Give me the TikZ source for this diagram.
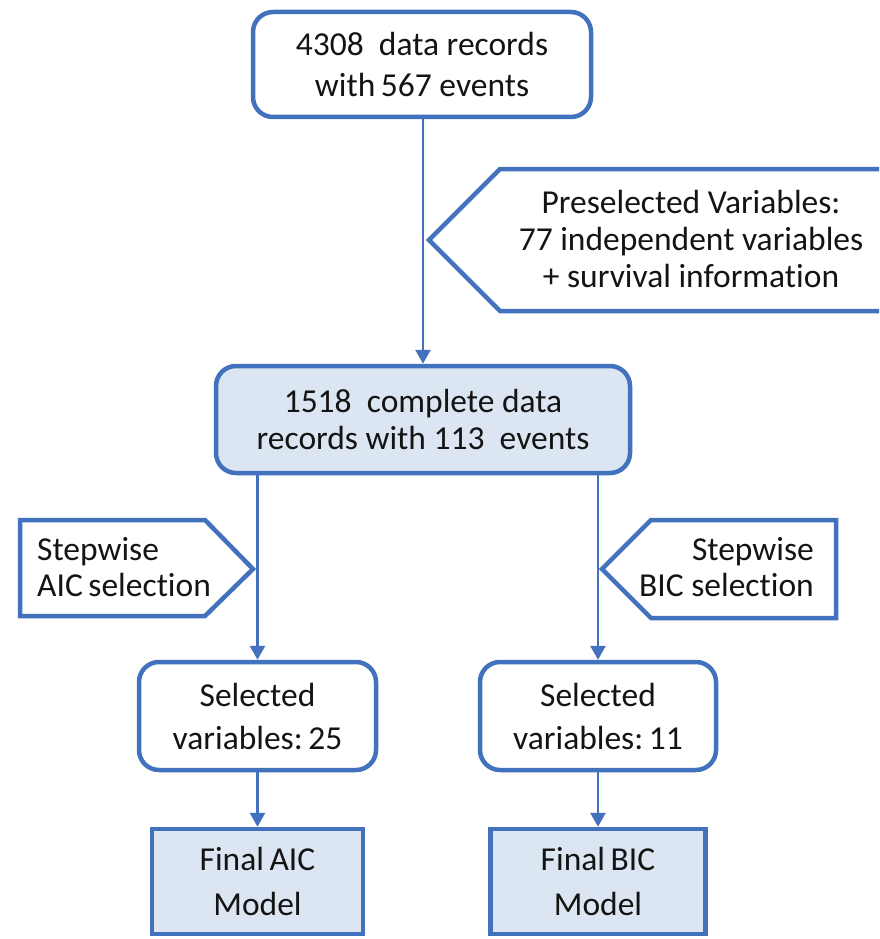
\documentclass[tikz,border=0pt]{standalone}
\usepackage{fontspec}
\setmainfont{Carlito}[Ligatures={NoCommon}]
\usetikzlibrary{arrows.meta}
\definecolor{bline}{RGB}{66,114,190}
\definecolor{bfill}{RGB}{220,230,242}
\definecolor{txt}{RGB}{20,20,20}
\tikzset{
  boxbase/.style={draw=bline, line width=4.5pt, text=txt, align=center, inner sep=0pt},
  roundbox/.style={boxbase, rounded corners=20pt, fill=white},
  roundfill/.style={boxbase, rounded corners=20pt, fill=bfill},
  finalbox/.style={boxbase, fill=bfill},
  calloutshape/.style={draw=bline, line width=4.5pt, fill=white, line join=miter},
  calltext/.style={text=txt, inner sep=0pt},
  conn/.style={draw=bline, line width=2.8pt, -{Triangle[width=15pt,length=14pt]}}
}
\begin{document}
\begin{tikzpicture}[x=1pt,y=-1pt]
\useasboundingbox (0,0) rectangle (879,939);
\clip (0,0) rectangle (879,939);
\fill[white] (0,0) rectangle (879,939);

% top box
\node[roundbox, minimum width=338pt, minimum height=105pt, font=\fontsize{33.5}{41}\selectfont] (top) at (422,64.5) {4308\ \ data records\\with\,567 events};

% middle box
\node[roundfill, minimum width=414pt, minimum height=107pt, font=\fontsize{33.5}{37}\selectfont] (mid) at (423,419.5) {1518\ \ complete data\\records with 113\ \ events};

% connector top -> mid
\coordinate (tb) at (423,117);
\draw[conn] (top.south -| tb) -- (mid.north -| tb);

% preselected callout
\coordinate (pretip) at (429,240);
\draw[calloutshape] (pretip) -- (500,169) -- (895,169) -- (895,311) -- (500,311) -- cycle;
\node[calltext, align=center, font=\fontsize{33.5}{37}\selectfont] (pre) at (691,239) {Preselected Variables:\\77 independent variables\\+ survival information};

% selected boxes
\node[roundbox, minimum width=237pt, minimum height=108pt, font=\fontsize{33.5}{43}\selectfont] (selA) at (257.5,716) {Selected\\variables:\,25};
\node[roundbox, minimum width=236pt, minimum height=108pt, font=\fontsize{33.5}{43}\selectfont] (selB) at (598,716) {Selected\\variables:\,11};

% final boxes
\node[finalbox, minimum width=211pt, minimum height=105pt, font=\fontsize{33.5}{45}\selectfont] (finA) at (257.5,881.5) {Final\,AIC\\Model};
\node[finalbox, minimum width=215pt, minimum height=105pt, font=\fontsize{33.5}{45}\selectfont] (finB) at (598,881.5) {Final\,BIC\\Model};

% connectors mid -> selected
\draw[conn] (mid.south -| selA) -- (selA.north);
\draw[conn] (mid.south -| selB) -- (selB.north);

% AIC callout
\draw[calloutshape] (20,520) -- (205,520) -- (253,569) -- (205,616) -- (20,616) -- cycle;
\node[calltext, align=left, anchor=west, font=\fontsize{33.5}{36}\selectfont] (aic) at (37,567.5) {Stepwise\\AIC\,selection};

% BIC callout
\draw[calloutshape] (602,569) -- (651,520) -- (836,520) -- (836,618) -- (651,618) -- cycle;
\node[calltext, align=right, anchor=east, font=\fontsize{33.5}{36}\selectfont] (bic) at (814,567.5) {Stepwise\\BIC selection};

% connectors selected -> final
\draw[conn] (selA.south) -- (finA.north);
\draw[conn] (selB.south) -- (finB.north);
\end{tikzpicture}
\end{document}
